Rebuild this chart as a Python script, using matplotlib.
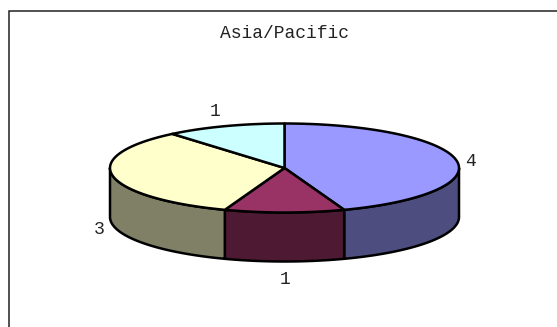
#!/usr/bin/env python3
"""Asia/Pacific 3D pie, drawn with 2D patches in pixel coordinates."""

import matplotlib

matplotlib.use("Agg")
import matplotlib.pyplot as plt
import numpy as np
from matplotlib.patches import Polygon

TITLE = "Asia/Pacific"
VALUES = [4, 1, 3, 1]
LABELS = ["4", "1", "3", "1"]
TOP_COLORS = ["#9999ff", "#993366", "#ffffcc", "#ccffff"]
SIDE_COLORS = ["#4d4d80", "#4d1933", "#808066", "#668080"]
LABEL_POS = [(471, 161), (285, 280), (99, 230), (215, 111)]

W, H = 557, 327
CX, CY, RX, RY, DEPTH = 284.5, 168, 174.5, 44.5, 49


def rim(a0, a1):
    # angles are clockwise from 12 o'clock
    t = np.radians(np.linspace(a0, a1, 120))
    return np.column_stack([CX + RX * np.sin(t), CY - RY * np.cos(t)])


fig = plt.figure(figsize=(W / 100, H / 100), dpi=100)
ax = fig.add_axes([0, 0, 1, 1])
ax.set_xlim(0, W)
ax.set_ylim(H, 0)
ax.axis("off")

ax.plot([8.5, 8.5, W], [H, 11, 11], color="#222222", lw=1.1, solid_joinstyle="miter")

edges = np.cumsum([0] + VALUES) / sum(VALUES) * 360
lw = 1.8

# walls first: only the front half (90..270 deg) is visible
for i in range(len(VALUES)):
    a0, a1 = max(edges[i], 90), min(edges[i + 1], 270)
    if a1 <= a0:
        continue
    top = rim(a0, a1)
    bottom = top[::-1] + [0, DEPTH]
    ax.add_patch(Polygon(np.vstack([top, bottom]), closed=True, fc=SIDE_COLORS[i],
                         ec="black", lw=lw, joinstyle="round"))

for i in range(len(VALUES)):
    pts = np.vstack([[CX, CY], rim(edges[i], edges[i + 1])])
    ax.add_patch(Polygon(pts, closed=True, fc=TOP_COLORS[i], ec="black", lw=lw,
                         joinstyle="round"))

font = {"family": "Liberation Mono", "color": "#222222", "fontsize": 13}
ax.text(285, 34, TITLE, ha="center", va="center", **font)
for text, (x, y) in zip(LABELS, LABEL_POS):
    ax.text(x, y, text, ha="center", va="center", **font)

fig.savefig("out.png", dpi=100, facecolor="white")
